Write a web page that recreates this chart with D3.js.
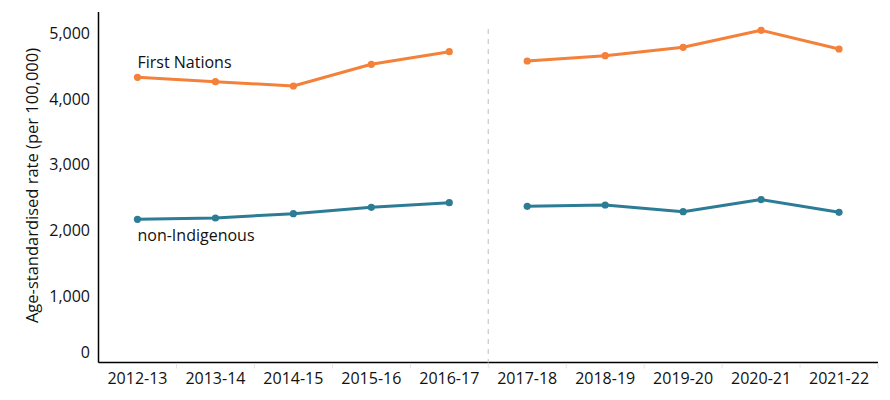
<!DOCTYPE html>
<html><head><meta charset="utf-8">
<script src="https://cdn.jsdelivr.net/npm/d3@7"></script>
<style>body{margin:0;background:#fff;} text{font-family:"Open Sans",sans-serif;}</style>
</head><body><svg id="c" width="890" height="400"></svg>
<script>
const categories = ["2012-13","2013-14","2014-15","2015-16","2016-17","2017-18","2018-19","2019-20","2020-21","2021-22"];
const firstNations = [4328,4261,4196,4525,4716,4575,4656,4783,5041,4757];
const nonIndigenous = [2173,2193,2258,2355,2425,2370,2390,2288,2473,2279];
const yTicks = [0,1000,2000,3000,4000,5000];
const breakAfter = "2016-17";
const seriesNames = ["First Nations","non-Indigenous"];
const colors = ["#f4813a","#2d7c95"];

const svg = d3.select("#c");
const L=98.5, R=878, T=12, B=362.5;
const x = d3.scaleBand().domain(categories).range([L,R]);
const y = d3.scaleLinear().domain([0,5000]).range([B,33]);

// axes
svg.append("line").attr("x1",L).attr("x2",L).attr("y1",T).attr("y2",B).attr("stroke","#000").attr("stroke-width",1.5);
svg.append("line").attr("x1",L).attr("x2",R).attr("y1",B).attr("y2",B).attr("stroke","#000").attr("stroke-width",1.5);
svg.selectAll(".yt").data(yTicks).join("text")
  .attr("x",90).attr("y",d=>y(d)-(d===0?10.5:0)).attr("dy","0.35em")
  .attr("text-anchor","end").attr("font-size",16).attr("fill","#111").text(d=>d3.format(",")(d));
svg.append("text").attr("transform",`translate(38,185.5) rotate(-90)`)
  .attr("text-anchor","middle").attr("font-size",16.5).attr("fill","#111").text("Age-standardised rate (per 100,000)");

// x tick separators
svg.selectAll(".xs").data(categories).join("line")
  .attr("x1",d=>x(d)+x.bandwidth()).attr("x2",d=>x(d)+x.bandwidth())
  .attr("y1",B+1).attr("y2",B+6).attr("stroke","#e4e4e4");
svg.selectAll(".xt").data(categories).join("text")
  .attr("x",d=>x(d)+x.bandwidth()/2).attr("y",378).attr("dy","0.35em")
  .attr("text-anchor","middle").attr("font-size",16).attr("fill","#111").text(d=>d);

// break line
const bx = x(breakAfter)+x.bandwidth();
svg.append("line").attr("x1",bx).attr("x2",bx).attr("y1",29).attr("y2",B)
  .attr("stroke","#c8c8c8").attr("stroke-width",1.2).attr("stroke-dasharray","5,5");

const idxBreak = categories.indexOf(breakAfter);
[firstNations,nonIndigenous].forEach((vals,si)=>{
  const pts = vals.map((v,i)=>({c:categories[i],v,i}));
  const segs=[pts.slice(0,idxBreak+1), pts.slice(idxBreak+1)];
  const line = d3.line().x(d=>x(d.c)+x.bandwidth()/2).y(d=>y(d.v));
  segs.forEach(s=>svg.append("path").attr("d",line(s)).attr("fill","none")
    .attr("stroke",colors[si]).attr("stroke-width",3).attr("stroke-linejoin","round"));
  svg.selectAll(null).data(pts).join("circle").attr("cx",d=>x(d.c)+x.bandwidth()/2).attr("cy",d=>y(d.v))
    .attr("r",3.6).attr("fill",colors[si]);
});
svg.append("text").attr("x",x(categories[0])+x.bandwidth()/2).attr("y",62).attr("dy","0.35em")
  .attr("font-size",16).attr("fill","#111").text(seriesNames[0]);
svg.append("text").attr("x",x(categories[0])+x.bandwidth()/2).attr("y",235).attr("dy","0.35em")
  .attr("font-size",16).attr("fill","#111").text(seriesNames[1]);
</script></body></html>
